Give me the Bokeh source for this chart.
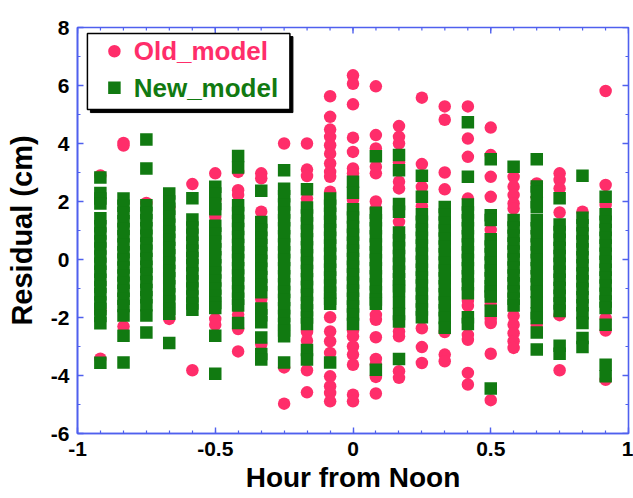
from bokeh.plotting import figure
from bokeh.models import ColumnDataSource, FixedTicker
from bokeh.core.properties import value
from bokeh.embed import file_html
from bokeh.resources import INLINE

# ---- data ----
hours = [-0.917, -0.833, -0.75, -0.667, -0.583, -0.5, -0.417, -0.333, -0.25, -0.167, -0.083,
         0.0, 0.083, 0.167, 0.25, 0.333, 0.417, 0.5, 0.583, 0.667, 0.75, 0.833, 0.917]

old_model = [
    [2.9, -1.75, -3.42],
    [4.02, 3.93, -2.31],
    [1.95],
    [1.78, -2.05],
    [2.6, -3.82],
    [2.97, 2.05, 1.48, -2.05, -2.25],
    [3.02, 2.39, 2.22, -1.9, -2.4, -3.17],
    [2.97, 2.8, 1.65, -1.37, -2.93],
    [4.0, -3.72, -4.97],
    [4.0, 3.1, 2.88, 2.1, -2.5, -2.8, -3.82, -4.58],
    [5.63, 4.92, 4.48, 4.23, 3.94, 3.65, 3.31, 3.02, 2.85, 2.34, -1.99, -2.48, -2.82, -3.22,
     -4.03, -4.37, -4.6, -4.89],
    [6.35, 6.06, 5.35, 4.2, 3.71, 3.14, 2.97, 2.05, -2.45, -2.65, -3.0, -3.28, -3.63, -4.66, -4.89],
    [5.97, 4.29, 3.83, 3.2, 2.97, 2.0, 1.75, -1.91, -2.08, -2.68, -3.43, -3.62, -4.05, -4.62],
    [4.6, 4.23, 4.0, 3.35, 2.68, 2.45, 1.3, -2.48, -2.65, -3.85, -4.08],
    [5.58, 3.29, 2.5, 1.84, -2.37, -3.02, -3.57],
    [5.28, 4.82, 3.0, 2.42, -2.5, -3.28, -3.51],
    [5.28, 4.17, 3.54, 2.1, -1.42, -1.6, -2.6, -2.77, -3.91, -4.31],
    [4.55, 3.6, 2.85, 2.16, 1.02, -1.55, -2.05, -2.19, -3.25, -4.85],
    [2.85, 2.51, 2.22, 1.93, 1.76, -1.94, -2.25, -2.54, -2.82, -3.05],
    [2.62, 2.14, -2.25],
    [2.97, 2.74, 2.45, 1.62, -1.92, -3.82],
    [1.65],
    [5.81, 2.57, 1.88, -2.02, -2.45, -4.15],
]

new_model = [
    [2.83, 2.29, 2.1, 1.93, 1.42, 1.15, 0.9, 0.62, 0.38, 0.1, -0.15, -0.42, -0.7, -0.95, -1.2,
     -1.48, -1.71, -1.95, -2.2, -3.56],
    [2.1, 1.85, 1.6, 1.32, 1.05, 0.8, 0.52, 0.25, 0.0, -0.28, -0.55, -0.8, -1.08, -1.35, -1.6,
     -1.93, -2.63, -3.55],
    [4.14, 3.14, 1.87, 1.6, 1.35, 1.08, 0.82, 0.55, 0.3, 0.02, -0.25, -0.5, -0.78, -1.05, -1.3,
     -1.58, -1.93, -2.52],
    [2.28, 2.0, 1.75, 1.48, 1.2, 0.95, 0.68, 0.4, 0.15, -0.12, -0.4, -0.65, -0.92, -1.2, -1.45,
     -1.7, -1.87, -2.88],
    [2.11, 1.38, 1.1, 0.85, 0.58, 0.3, 0.05, -0.2, -0.48, -0.75, -1.0, -1.28, -1.52, -1.73],
    [2.51, 2.28, 1.91, 1.73, 1.16, 0.9, 0.62, 0.35, 0.08, -0.2, -0.45, -0.72, -1.0, -1.25, -1.5,
     -1.67, -2.63, -3.94],
    [3.57, 3.17, 1.87, 1.6, 1.33, 1.05, 0.78, 0.5, 0.25, -0.02, -0.3, -0.55, -0.82, -1.1, -1.35,
     -1.59, -2.19],
    [2.37, 1.29, 1.02, 0.75, 0.5, 0.22, -0.05, -0.32, -0.6, -0.88, -1.13, -1.69, -1.92, -2.16,
     -2.69, -3.26, -3.45],
    [3.08, 2.44, 2.18, 1.9, 1.62, 1.35, 1.08, 0.8, 0.52, 0.25, -0.02, -0.3, -0.58, -0.85, -1.12,
     -1.4, -1.68, -1.95, -2.22, -2.45, -2.65, -3.55],
    [2.42, 1.79, 1.52, 1.25, 0.98, 0.7, 0.42, 0.15, -0.12, -0.4, -0.68, -0.95, -1.22, -1.5,
     -1.75, -2.0, -2.22, -3.12, -3.45],
    [2.1, 1.85, 1.58, 1.3, 1.02, 0.75, 0.48, 0.2, -0.08, -0.35, -0.62, -0.9, -1.15, -1.35, -1.53,
     -3.55],
    [2.68, 2.3, 1.73, 1.45, 1.12, 0.85, 0.58, 0.3, 0.02, -0.25, -0.52, -0.8, -1.08, -1.35, -1.62,
     -1.9, -2.22],
    [3.56, 1.61, 1.35, 1.08, 0.8, 0.52, 0.25, -0.02, -0.3, -0.58, -0.85, -1.12, -1.38, -1.53,
     -3.8],
    [3.6, 3.08, 1.91, 1.65, 0.93, 0.66, 0.4, 0.12, -0.15, -0.42, -0.68, -0.92, -1.09, -1.5,
     -1.88, -2.14, -3.43],
    [2.89, 2.16, 1.56, 1.3, 1.02, 0.75, 0.48, 0.2, -0.08, -0.35, -0.62, -0.9, -1.18, -1.45,
     -1.72, -1.99],
    [1.81, 1.55, 1.28, 1.0, 0.72, 0.45, 0.18, -0.1, -0.38, -0.65, -0.92, -1.2, -1.48, -1.75,
     -2.02, -2.35],
    [4.73, 2.85, 1.9, 1.62, 1.35, 1.08, 0.8, 0.52, 0.25, -0.02, -0.3, -0.58, -0.85, -1.16,
     -1.99, -2.22],
    [3.46, 1.53, 1.36, 0.7, 0.45, 0.18, -0.1, -0.38, -0.65, -0.92, -1.1, -1.28, -1.77, -4.45],
    [3.2, 1.36, 1.1, 0.82, 0.55, 0.28, 0.0, -0.28, -0.55, -0.82, -1.1, -1.35, -1.59],
    [3.46, 2.52, 2.33, 1.97, 1.8, 1.35, 1.08, 0.8, 0.52, 0.25, -0.02, -0.3, -0.58, -0.85, -1.12,
     -1.47, -1.85, -2.02, -2.52, -3.1],
    [2.11, 1.21, 0.95, 0.68, 0.4, 0.12, -0.15, -0.42, -0.7, -0.98, -1.25, -1.52, -1.78, -2.97,
     -3.25],
    [2.89, 1.44, 1.18, 0.9, 0.62, 0.35, 0.08, -0.2, -0.48, -0.75, -1.02, -1.3, -1.58, -1.85,
     -2.19, -2.71, -3.02],
    [2.16, 1.56, 1.3, 1.02, 0.75, 0.48, 0.2, -0.08, -0.35, -0.62, -0.9, -1.18, -1.45, -1.67,
     -2.25, -3.63, -4.03],
]

x_ticks = [-1, -0.5, 0, 0.5, 1]
x_tick_labels = ["-1", "-0.5", "0", "0.5", "1"]
y_ticks = [-6, -4, -2, 0, 2, 4, 6, 8]
y_tick_labels = ["-6", "-4", "-2", "0", "2", "4", "6", "8"]
series_names = ["Old_model", "New_model"]
x_title = "Hour from Noon"
y_title = "Residual (cm)"

PINK = "#ff2d6a"
GREEN = "#117a11"
BLUE = "#4f60ee"
FONT = "Liberation Sans"
X0, X1, Y0, Y1 = -1, 1, -6, 8
FRAME_W, FRAME_H = 551, 406


def flatten(groups):
    xs, ys = [], []
    for h, vals in zip(hours, groups):
        xs.extend([h] * len(vals))
        ys.extend(vals)
    return ColumnDataSource(dict(x=xs, y=ys))


p = figure(width=633, height=498, x_range=(X0, X1), y_range=(Y0, Y1),
           output_backend="svg", toolbar_location=None,
           min_border_left=77, min_border_right=5, min_border_top=27, min_border_bottom=65)
p.grid.visible = False
p.outline_line_color = BLUE
p.outline_line_width = 1.6
p.background_fill_color = "white"
p.border_fill_color = "white"

p.scatter("x", "y", source=flatten(old_model), marker="circle", size=12.5,
          fill_color=PINK, line_color=None)
p.scatter("x", "y", source=flatten(new_model), marker="square", size=12.5,
          fill_color=GREEN, line_color=None)

x_minor = [i / 12 for i in range(-12, 13)]
y_minor = list(range(-6, 9))
xticker = FixedTicker(ticks=x_ticks, minor_ticks=x_minor)
yticker = FixedTicker(ticks=y_ticks, minor_ticks=y_minor)


def style_axis(ax):
    ax.axis_line_color = BLUE
    ax.axis_line_width = 1.6
    ax.major_tick_line_color = BLUE
    ax.minor_tick_line_color = BLUE
    ax.major_tick_line_width = 1.4
    ax.minor_tick_line_width = 1.2
    ax.major_tick_in = 6
    ax.major_tick_out = 0
    ax.minor_tick_in = 3
    ax.minor_tick_out = 0
    ax.major_label_text_font = FONT
    ax.major_label_text_font_style = "bold"
    ax.major_label_text_font_size = "21px"
    ax.major_label_text_color = "black"
    ax.axis_label_text_font = FONT
    ax.axis_label_text_font_style = "bold"
    ax.axis_label_text_color = "black"


xa = p.xaxis[0]
xa.ticker = xticker
style_axis(xa)
xa.major_label_overrides = dict(zip(x_ticks, x_tick_labels))
xa.axis_label = x_title
xa.axis_label_text_font_size = "28px"
xa.major_label_standoff = 8
xa.axis_label_standoff = 3

ya = p.yaxis[0]
ya.ticker = yticker
style_axis(ya)
ya.major_label_overrides = dict(zip(y_ticks, y_tick_labels))
ya.axis_label = y_title
ya.axis_label_text_font_size = "29px"
ya.major_label_standoff = 8
ya.axis_label_standoff = 10

# mirrored inward ticks on the top and right frame edges (6 px major, 3 px minor)
ux = (X1 - X0) / FRAME_W
uy = (Y1 - Y0) / FRAME_H
p.segment(x0=x_ticks, x1=x_ticks, y0=[Y1] * len(x_ticks), y1=[Y1 - 6 * uy] * len(x_ticks),
          line_color=BLUE, line_width=1.4)
p.segment(x0=x_minor, x1=x_minor, y0=[Y1] * len(x_minor), y1=[Y1 - 3 * uy] * len(x_minor),
          line_color=BLUE, line_width=1.2)
p.segment(x0=[X1] * len(y_ticks), x1=[X1 - 6 * ux] * len(y_ticks), y0=y_ticks, y1=y_ticks,
          line_color=BLUE, line_width=1.4)
p.segment(x0=[X1] * len(y_minor), x1=[X1 - 3 * ux] * len(y_minor), y0=y_minor, y1=y_minor,
          line_color=BLUE, line_width=1.2)

# ---- legend box (drawn by hand so each label has its own colour) ----
lx0, lx1, ly0, ly1 = -0.964, -0.229, 5.17, 7.79
dx, dy = 3 * ux, 3 * uy
p.quad(left=[lx0 + dx], right=[lx1 + dx], bottom=[ly0 - dy], top=[ly1 - dy],
       fill_color="black", line_color="black")
p.quad(left=[lx0], right=[lx1], bottom=[ly0], top=[ly1],
       fill_color="white", line_color="black", line_width=1.5)
p.scatter(x=[-0.866], y=[7.18], marker="circle", size=12.5, fill_color=PINK, line_color=None)
p.scatter(x=[-0.866], y=[5.92], marker="square", size=12.5, fill_color=GREEN, line_color=None)
p.text(x=[-0.796], y=[7.18], text=[series_names[0]], text_color=PINK,
       text_font=value(FONT), text_font_style="bold", text_font_size="26px",
       text_baseline="middle", text_align="left")
p.text(x=[-0.796], y=[5.92], text=[series_names[1]], text_color=GREEN,
       text_font=value(FONT), text_font_style="bold", text_font_size="26px",
       text_baseline="middle", text_align="left")

open("out.html", "w").write(file_html(p, INLINE))
